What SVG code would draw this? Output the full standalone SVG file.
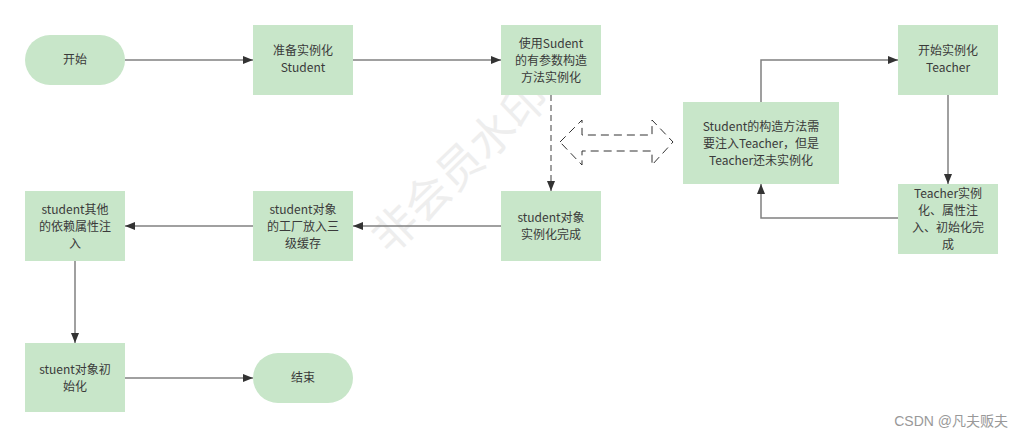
<svg xmlns="http://www.w3.org/2000/svg" width="1023" height="438" viewBox="0 0 1023 438">
<style>
.n{fill:#c8e6c9;stroke:none}
.t{font-family:"Noto Sans CJK SC","Microsoft YaHei",sans-serif;font-size:12px;fill:#3a3a3a;text-anchor:middle}
.c{fill:none;stroke:#808080;stroke-width:1.5}
.d{stroke-dasharray:6 4}
.wm{font-family:"Noto Sans CJK SC",sans-serif;font-size:45px;fill:#eeeeee}
</style>
<defs>
<marker id="a" viewBox="0 0 10 8" refX="10" refY="4" markerWidth="10" markerHeight="8" markerUnits="userSpaceOnUse" orient="auto">
<path d="M0,0 L10,4 L0,8 z" fill="#333"/>
</marker>
</defs>
<rect width="1023" height="438" fill="#fff"/>
<text class="wm" transform="translate(390,256) rotate(-44)">非会员水印</text>
<g id="connectors">
<path class="c" d="M125,60 H253" marker-end="url(#a)"/>
<path class="c" d="M353,60 H501" marker-end="url(#a)"/>
<path class="c d" d="M551,95 V191" marker-end="url(#a)"/>
<path class="c" d="M501,226 H353" marker-end="url(#a)"/>
<path class="c" d="M253,226 H125" marker-end="url(#a)"/>
<path class="c" d="M75,261 V343" marker-end="url(#a)"/>
<path class="c" d="M125,378 H253" marker-end="url(#a)"/>
<path class="c" d="M761,102 V60 H898" marker-end="url(#a)"/>
<path class="c" d="M948,95 V184" marker-end="url(#a)"/>
<path class="c" d="M898,218 H761 V184" marker-end="url(#a)"/>
<path d="M560,142 L582,120 L582,135 L652,135 L652,120 L673,142 L652,165 L652,151 L582,151 L582,165 Z" fill="#fff" stroke="#333" stroke-width="1" stroke-dasharray="8 5"/>
</g>
<g id="start"><rect class="n" x="25" y="35" width="100" height="50" rx="25"/><text class="t" x="75" y="64">开始</text></g>
<g id="prep"><rect class="n" x="253" y="25" width="100" height="70"/><text class="t" x="303" y="55">准备实例化</text><text class="t" x="303" y="72">Student</text></g>
<g id="useCtor"><rect class="n" x="501" y="25" width="100" height="70"/><text class="t" x="551" y="48">使用Sudent</text><text class="t" x="551" y="65">的有参数构造</text><text class="t" x="551" y="82">方法实例化</text></g>
<g id="studentDone"><rect class="n" x="501" y="191" width="100" height="70"/><text class="t" x="551" y="222">student对象</text><text class="t" x="551" y="239">实例化完成</text></g>
<g id="factory"><rect class="n" x="253" y="191" width="100" height="70"/><text class="t" x="303" y="214">student对象</text><text class="t" x="303" y="231">的工厂放入三</text><text class="t" x="303" y="248">级缓存</text></g>
<g id="inject"><rect class="n" x="25" y="191" width="100" height="70"/><text class="t" x="75" y="214">student其他</text><text class="t" x="75" y="231">的依赖属性注</text><text class="t" x="75" y="248">入</text></g>
<g id="init"><rect class="n" x="25" y="343" width="100" height="69"/><text class="t" x="75" y="374">stuent对象初</text><text class="t" x="75" y="391">始化</text></g>
<g id="end"><rect class="n" x="253" y="353" width="100" height="50" rx="25"/><text class="t" x="303" y="382">结束</text></g>
<g id="needTeacher"><rect class="n" x="683" y="102" width="156" height="82"/><text class="t" x="761" y="131">Student的构造方法需</text><text class="t" x="761" y="148">要注入Teacher，但是</text><text class="t" x="761" y="165">Teacher还未实例化</text></g>
<g id="teacherStart"><rect class="n" x="898" y="25" width="100" height="70"/><text class="t" x="948" y="55">开始实例化</text><text class="t" x="948" y="72">Teacher</text></g>
<g id="teacherDone"><rect class="n" x="898" y="184" width="100" height="70"/><text class="t" x="948" y="198">Teacher实例</text><text class="t" x="948" y="215">化、属性注</text><text class="t" x="948" y="232">入、初始化完</text><text class="t" x="948" y="249">成</text></g>
<text x="1008" y="426" text-anchor="end" font-family="'Liberation Sans','Noto Sans CJK SC',sans-serif" font-size="14" fill="#999">CSDN @凡夫贩夫</text>
</svg>
